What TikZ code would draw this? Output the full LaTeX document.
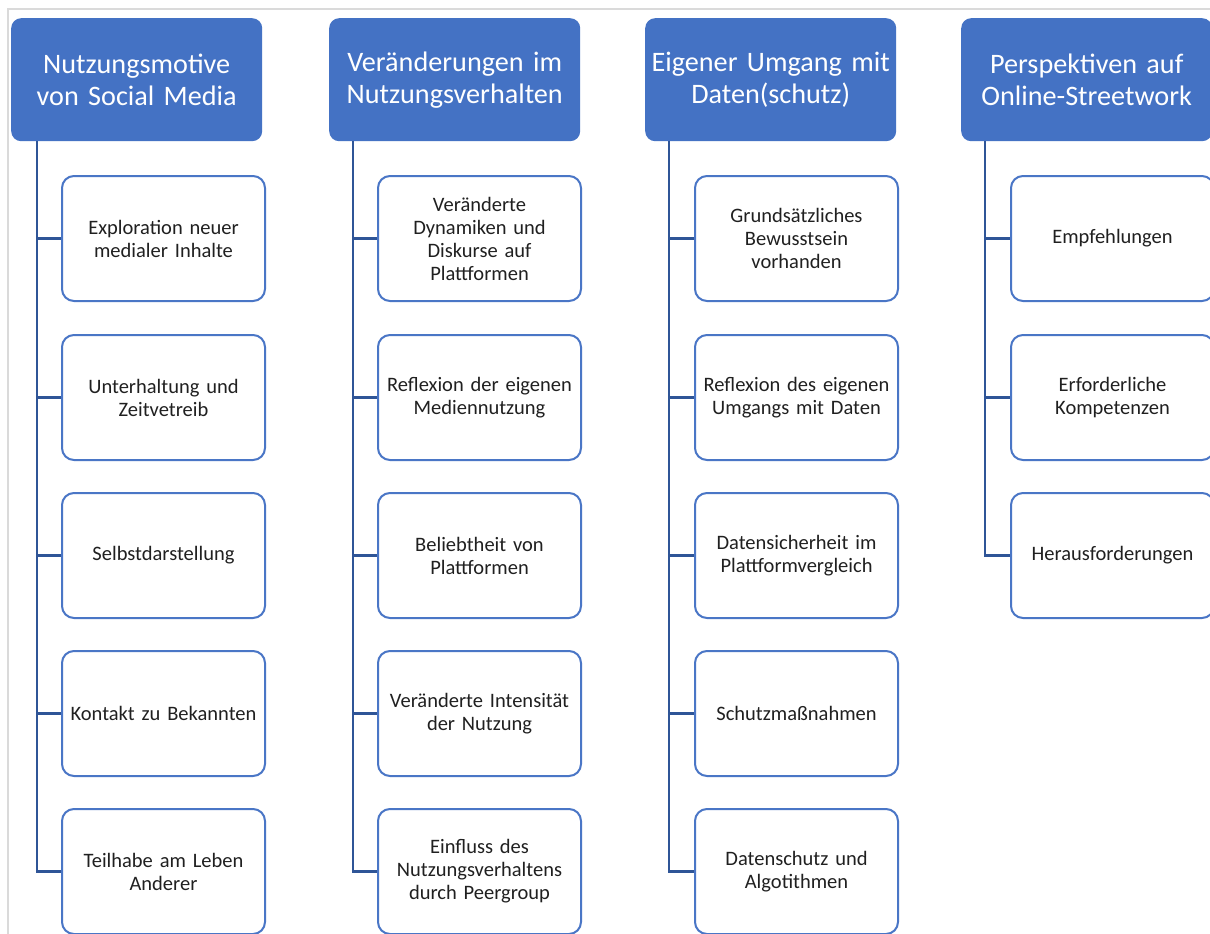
\documentclass[tikz,border=0pt]{standalone}
\usepackage{fontspec}
\setmainfont{Carlito}
\definecolor{hblue}{HTML}{4472C4}
\definecolor{cblue}{HTML}{4A76C6}
\definecolor{lblue}{HTML}{2F5597}
\definecolor{txt}{HTML}{202020}
\definecolor{frame}{HTML}{DADADA}
\tikzset{
  head/.style={anchor=north west, fill=hblue, draw=none, rounded corners=10pt,
    minimum width=251pt, minimum height=123pt, text width=249pt, align=center,
    text=white, inner sep=0pt, font=\fontsize{28.2}{32}\selectfont},
  child/.style={anchor=north west, fill=white, draw=cblue, line width=2pt, rounded corners=12pt,
    minimum width=203pt, minimum height=125pt, text width=200pt, align=center,
    text=txt, inner sep=0pt, font=\fontsize{20.5}{23}\selectfont},
  conn/.style={draw=lblue, line width=2.2pt},
}
\begin{document}
\begin{tikzpicture}[x=1pt,y=-1pt]
\useasboundingbox (0,0) rectangle (1210,934);
\clip (0,0) rectangle (1210,934);
\fill[white] (0,0) rectangle (1210,934);
\draw[frame, line width=1.5pt] (8,934) -- (8,9) -- (1212,9);

% headers
\node[head] (h1) at (11,18) {Nutzungsmotive\\von Social Media};
\node[head] (h2) at (329,18) {Veränderungen im\\Nutzungsverhalten};
\node[head] (h3) at (645,18) {Eigener Umgang mit\\Daten(schutz)};
\node[head] (h4) at (961,18) {Perspektiven auf\\Online-Streetwork};

% column 1
\node[child] (a1) at (61,175) {Exploration neuer\\medialer Inhalte};
\node[child] (a2) at (61,334) {Unterhaltung und\\Zeitvetreib};
\node[child] (a3) at (61,492) {Selbstdarstellung};
\node[child] (a4) at (61,650) {Kontakt zu Bekannten};
\node[child] (a5) at (61,808) {Teilhabe am Leben\\Anderer};

% column 2
\node[child] (b1) at (377,175) {Veränderte\\Dynamiken und\\Diskurse auf\\Plattformen};
\node[child] (b2) at (377,334) {Reflexion der eigenen\\Mediennutzung};
\node[child] (b3) at (377,492) {Beliebtheit von\\Plattformen};
\node[child] (b4) at (377,650) {Veränderte Intensität\\der Nutzung};
\node[child] (b5) at (377,808) {Einfluss des\\Nutzungsverhaltens\\durch Peergroup};

% column 3
\node[child] (c1) at (694,175) {Grundsätzliches\\Bewusstsein\\vorhanden};
\node[child] (c2) at (694,334) {Reflexion des eigenen\\Umgangs mit Daten};
\node[child] (c3) at (694,492) {Datensicherheit im\\Plattformvergleich};
\node[child] (c4) at (694,650) {Schutzmaßnahmen};
\node[child] (c5) at (694,808) {Datenschutz und\\Algotithmen};

% column 4
\node[child] (d1) at (1010,175) {Empfehlungen};
\node[child] (d2) at (1010,334) {Erforderliche\\Kompetenzen};
\node[child] (d3) at (1010,492) {Herausforderungen};

% spines
\coordinate (s1) at (37,141);
\coordinate (s2) at (353,141);
\coordinate (s3) at (669,141);
\coordinate (s4) at (985,141);

\draw[conn] (s1) |- (a5.west);
\foreach \n in {a1,a2,a3,a4} \draw[conn] (s1 |- \n.west) -- (\n.west);
\draw[conn] (s2) |- (b5.west);
\foreach \n in {b1,b2,b3,b4} \draw[conn] (s2 |- \n.west) -- (\n.west);
\draw[conn] (s3) |- (c5.west);
\foreach \n in {c1,c2,c3,c4} \draw[conn] (s3 |- \n.west) -- (\n.west);
\draw[conn] (s4) |- (d3.west);
\foreach \n in {d1,d2} \draw[conn] (s4 |- \n.west) -- (\n.west);
\end{tikzpicture}
\end{document}
